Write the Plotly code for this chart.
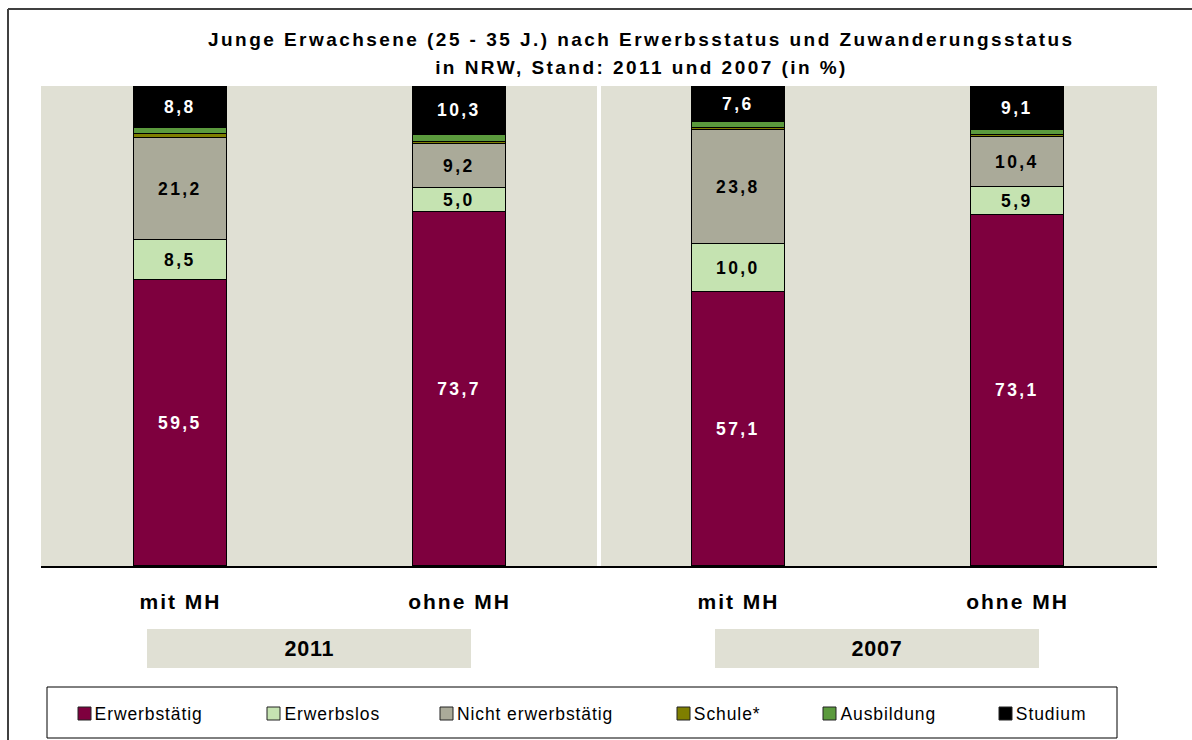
import json
import plotly.graph_objects as go

# ---------------- data ----------------
categories = ["mit MH", "ohne MH", "mit MH", "ohne MH"]
years = ["2011", "2007"]
series_names = ["Erwerbstätig", "Erwerbslos", "Nicht erwerbstätig", "Schule*", "Ausbildung", "Studium"]
erwerbstaetig = [59.5, 73.7, 57.1, 73.1]
erwerbslos = [8.5, 5.0, 10.0, 5.9]
nicht_erwerbstaetig = [21.2, 9.2, 23.8, 10.4]
schule = [0.7, 0.5, 0.3, 0.4]
ausbildung = [1.3, 1.3, 1.2, 1.1]
studium = [8.8, 10.3, 7.6, 9.1]
title_lines = ["Junge Erwachsene (25 - 35 J.) nach Erwerbsstatus und Zuwanderungsstatus",
               "in NRW, Stand: 2011 und 2007 (in %)"]

# ---------------- styles ----------------
colors = ["#7E003E", "#C5E3B1", "#AAAA99", "#7F7F00", "#5B9A3D", "#000000"]
label_colors = ["white", "black", "black", None, None, "white"]
show_labels = [True, True, True, False, False, True]
FONT = "Liberation Sans, Arial, sans-serif"

# font sizes and the letter spacing (px) used to mimic the original rendering
SZ_TITLE, LS_TITLE = 19, 2.45
SZ_CAT, LS_CAT = 21, 2.0
SZ_YEAR, LS_YEAR = 21.5, 0.8
SZ_VAL, LS_VAL = 17.5, 2.4
SZ_LEG, LS_LEG = 17.5, 0.9

W, H = 1192, 740
L, R, T, B = 41, 1157, 86, 566  # plot area in pixels


def px(x):
    return (x - L) / (R - L)


def py(y):
    return (B - y) / (B - T)


def fmt(v):
    return f"{v:.1f}".replace(".", ",")


x_pos = list(range(len(categories)))
all_series = [erwerbstaetig, erwerbslos, nicht_erwerbstaetig, schule, ausbildung, studium]

fig = go.Figure()
for name, vals, col, lc, sl in zip(series_names, all_series, colors, label_colors, show_labels):
    fig.add_trace(go.Bar(
        x=x_pos, y=vals, name=name, width=0.333,
        marker=dict(color=col, line=dict(color="black", width=1)),
        text=[fmt(v) for v in vals] if sl else None,
        textposition="inside" if sl else "none",
        insidetextanchor="middle",
        textfont=dict(family=FONT, size=SZ_VAL, color=lc if lc else "black", weight="bold"),
        showlegend=False,
        hoverinfo="skip",
    ))

shapes = []
annotations = []
# panel backgrounds
bg = "#E0E0D4"
shapes.append(dict(type="rect", xref="x", yref="y", x0=-0.5, x1=1.5, y0=0, y1=100,
                   fillcolor=bg, line=dict(width=0), layer="below"))
shapes.append(dict(type="rect", xref="x", yref="y", x0=1.5, x1=3.5, y0=0, y1=100,
                   fillcolor=bg, line=dict(width=0), layer="below"))
shapes.append(dict(type="line", xref="x", yref="y", x0=1.5, x1=1.5, y0=0, y1=100,
                   line=dict(color="white", width=4), layer="below"))

# outer frame (top + left)
shapes.append(dict(type="line", xref="paper", yref="paper", x0=px(8), x1=px(1200), y0=py(9), y1=py(9),
                   line=dict(color="#404040", width=2)))
shapes.append(dict(type="line", xref="paper", yref="paper", x0=px(8), x1=px(8), y0=py(9), y1=py(745),
                   line=dict(color="#404040", width=2)))

# title
for line, yy in zip(title_lines, [40, 67]):
    annotations.append(dict(text=line, xref="paper", yref="paper",
                            x=px(641), y=py(yy), xanchor="center", yanchor="middle", showarrow=False,
                            font=dict(family=FONT, size=SZ_TITLE, color="black", weight="bold")))

# year boxes
year_boxes = [(147, 471), (715, 1039)]
for yr, (x0, x1) in zip(years, year_boxes):
    shapes.append(dict(type="rect", xref="paper", yref="paper", x0=px(x0), x1=px(x1), y0=py(668), y1=py(629),
                       fillcolor=bg, line=dict(width=0)))
    annotations.append(dict(text=yr, xref="paper", yref="paper", x=px((x0 + x1) / 2),
                            y=py(648.5), xanchor="center", yanchor="middle", showarrow=False,
                            font=dict(family=FONT, size=SZ_YEAR, color="black", weight="bold")))

# legend box
shapes.append(dict(type="rect", xref="paper", yref="paper", x0=px(47), x1=px(1117), y0=py(738), y1=py(687),
                   fillcolor="white", line=dict(color="black", width=1)))
legend_x = [78, 267, 440, 677, 823, 999]
for name, col, lx in zip(series_names, colors, legend_x):
    shapes.append(dict(type="rect", xref="paper", yref="paper", x0=px(lx), x1=px(lx + 13),
                       y0=py(720), y1=py(707), fillcolor=col, line=dict(color="#222222", width=1)))
    # letter spacing widens the text symmetrically around its centre, so shift by half of it
    shift = LS_LEG * len(name) / 2
    annotations.append(dict(text=name, xref="paper", yref="paper", x=px(lx + 15 + shift), y=py(713.5),
                            xanchor="left", yanchor="middle", showarrow=False,
                            font=dict(family=FONT, size=SZ_LEG, color="black", weight="normal")))

fig.update_layout(
    width=W, height=H,
    margin=dict(l=L, r=W - R, t=T, b=H - B, pad=0),
    paper_bgcolor="white", plot_bgcolor="white",
    barmode="stack", bargap=0,
    showlegend=False,
    uniformtext=dict(minsize=SZ_VAL, mode="show"),
    shapes=shapes, annotations=annotations,
    xaxis=dict(range=[-0.5, 3.5], tickvals=x_pos, ticktext=categories,
               tickfont=dict(family=FONT, size=SZ_CAT, color="black", weight="bold"),
               ticks="outside", ticklen=16, tickcolor="rgba(0,0,0,0)",
               showline=True, linecolor="black", linewidth=1.5, showgrid=False, zeroline=False,
               fixedrange=True),
    yaxis=dict(range=[0, 100], visible=False, showgrid=False, zeroline=False, fixedrange=True),
)

# (size, bold) -> letter spacing
spacing_rules = [
    [SZ_TITLE, True, LS_TITLE],
    [SZ_CAT, True, LS_CAT],
    [SZ_YEAR, True, LS_YEAR],
    [SZ_VAL, True, LS_VAL],
    [SZ_LEG, False, LS_LEG],
]

post_js = """
document.body.style.margin = '0';
var rules = %RULES%;
var gd = document.getElementById('{plot_id}');
gd.querySelectorAll('text').forEach(function (t) {
  var fs = parseFloat(t.style.fontSize);
  var fw = String(t.style.fontWeight || '');
  var bold = (fw === 'bold' || parseInt(fw) >= 600);
  rules.forEach(function (r) {
    if (Math.abs(fs - r[0]) < 0.01 && bold === r[1]) { t.style.letterSpacing = r[2] + 'px'; }
  });
});
""".replace("%RULES%", json.dumps(spacing_rules))

fig.write_html("out.html", post_script=post_js, config={"displayModeBar": False})
